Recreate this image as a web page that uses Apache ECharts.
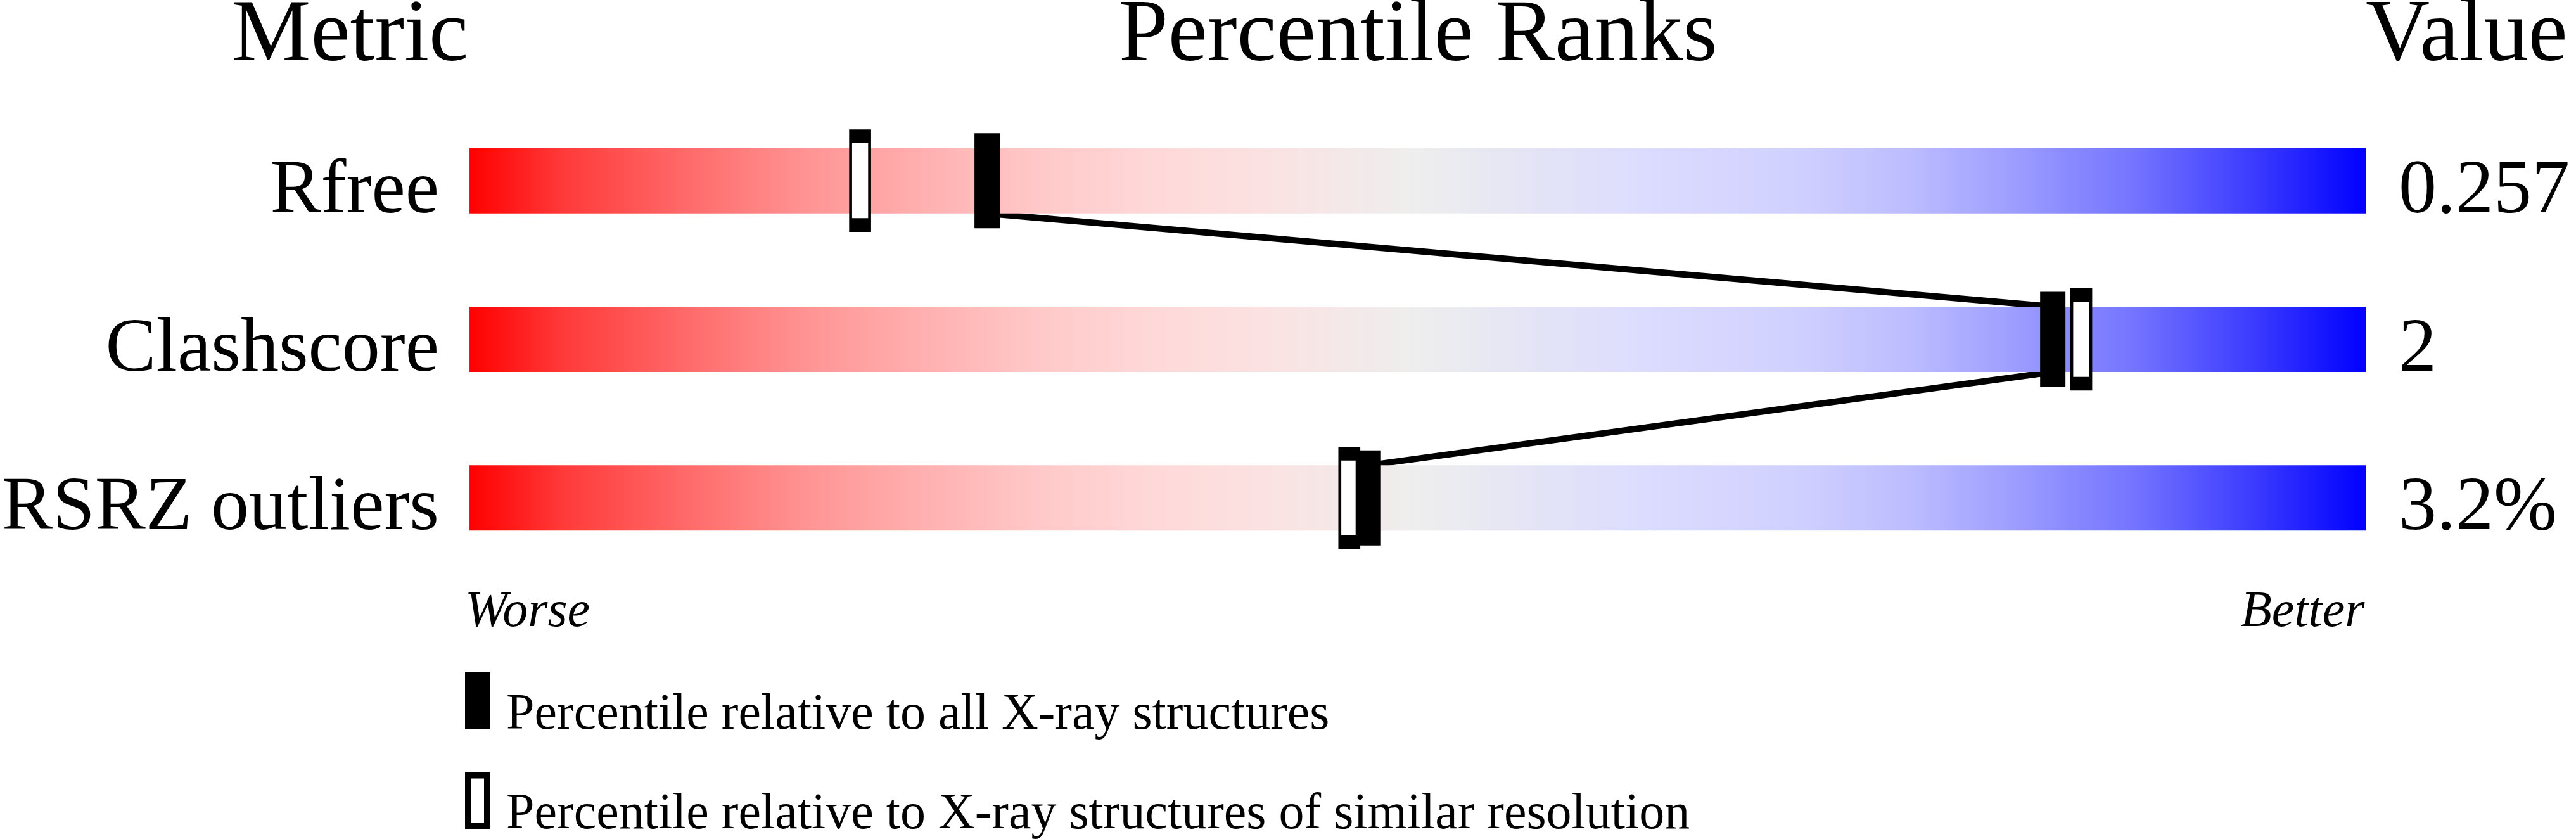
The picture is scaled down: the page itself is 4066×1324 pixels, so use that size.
<!DOCTYPE html>
<html>
<head>
<meta charset="utf-8">
<script src="https://cdn.jsdelivr.net/npm/echarts@6/dist/echarts.min.js"></script>
<style>
  html, body { margin: 0; padding: 0; background: #fff; }
  #chart { width: 4066px; height: 1324px; }
</style>
</head>
<body>
<div id="chart"></div>
<script>
// metrics and their values
const metrics = ['Rfree', 'Clashscore', 'RSRZ outliers'];
const metricValues = ['0.257', '2', '3.2%'];
// percentile ranks (0-100)
const pctAll = [27.3, 83.5, 47.4];        // all X-ray structures (filled)
const pctSimilar = [20.6, 85.0, 46.4];    // similar resolution (hollow)

const nameAll = 'Percentile relative to all X-ray structures';
const nameSimilar = 'Percentile relative to X-ray structures of similar resolution';

const FONT = "'Liberation Serif', 'Times New Roman', serif";
const BAR_H = 103;

const chart = echarts.init(document.getElementById('chart'));

// red -> grey -> blue
const barGradient = new echarts.graphic.LinearGradient(0, 0, 1, 0, [
    { offset: 0, color: '#ff0000' },
    { offset: 0.05, color: '#ff3a3a' },
    { offset: 0.116, color: '#ff6b6b' },
    { offset: 0.18, color: '#ff9595' },
    { offset: 0.24, color: '#ffb0b0' },
    { offset: 0.30, color: '#ffc8c8' },
    { offset: 0.36, color: '#ffd8d8' },
    { offset: 0.42, color: '#fbe2e2' },
    { offset: 0.50, color: '#eeeeee' },
    { offset: 0.56, color: '#e4e4f6' },
    { offset: 0.62, color: '#dcdcff' },
    { offset: 0.70, color: '#d0d0ff' },
    { offset: 0.76, color: '#bcbcff' },
    { offset: 0.82, color: '#9a9aff' },
    { offset: 0.88, color: '#7272ff' },
    { offset: 0.94, color: '#3c3cff' },
    { offset: 1, color: '#0000ff' }
]);

const links = [];
for (let i = 0; i < pctAll.length - 1; i++) {
    links.push([pctAll[i], i, pctAll[i + 1], i + 1]);
}

const titleStyle = (size, italic) => ({
    fontFamily: FONT,
    fontSize: size,
    fontWeight: 'normal',
    fontStyle: italic ? 'italic' : 'normal',
    color: '#000',
    lineHeight: size
});

// labels sit on the bar's bottom edge, so push them down a little
const rowLabel = {
    fontFamily: FONT, fontSize: 120, color: '#000',
    formatter: '{a|{value}}',
    rich: { a: { fontFamily: FONT, fontSize: 120, color: '#000', padding: [36, 0, 0, 0] } }
};

const option = {
    animation: false,
    backgroundColor: '#fff',
    title: [
        { text: 'Metric', left: 366, top: -12, padding: 0, textStyle: titleStyle(140) },
        { text: 'Percentile Ranks', left: 1766, top: -12, padding: 0, textStyle: titleStyle(140) },
        { text: 'Value', left: 3734, top: -12, padding: 0, textStyle: titleStyle(140) },
        { text: 'Worse', left: 734, top: 927, padding: 0, textStyle: titleStyle(80, true) },
        { text: 'Better', left: 3537, top: 927, padding: 0, textStyle: titleStyle(80, true) }
    ],
    legend: {
        orient: 'vertical',
        left: 734,
        top: 1061,
        height: 600,
        itemWidth: 30,
        itemHeight: 80,
        itemGap: 50,
        padding: 0,
        selectedMode: false,
        formatter: '{a|{name}}',
        textStyle: {
            fontFamily: FONT, fontSize: 80, color: '#000',
            rich: { a: { fontFamily: FONT, fontSize: 80, color: '#000', padding: [45, 0, 0, 25] } }
        },
        data: [
            { name: nameAll, icon: 'rect', itemStyle: { color: '#000', borderColor: '#000', borderWidth: 10 } },
            { name: nameSimilar, icon: 'rect', itemStyle: { color: '#fff', borderColor: '#000', borderWidth: 10 } }
        ]
    },
    grid: { left: 734, right: 332, top: 160, height: 751, containLabel: false },
    xAxis: { type: 'value', min: 0, max: 100, show: false },
    yAxis: [
        {
            type: 'category', data: metrics, inverse: true,
            axisLine: { show: false }, axisTick: { show: false }, splitLine: { show: false },
            axisLabel: Object.assign({ margin: 48 }, rowLabel)
        },
        {
            type: 'category', data: metricValues, inverse: true, position: 'right',
            axisLine: { show: false }, axisTick: { show: false }, splitLine: { show: false },
            axisLabel: Object.assign({ margin: 52 }, rowLabel)
        }
    ],
    series: [
        {
            type: 'bar', data: metrics.map(() => 100), barWidth: BAR_H,
            itemStyle: { color: barGradient }, silent: true
        },
        {
            type: 'custom', data: links, encode: { x: [0, 2], y: [1, 3] }, silent: true,
            renderItem: function (params, api) {
                const a = api.coord([api.value(0), api.value(1)]);
                const b = api.coord([api.value(2), api.value(3)]);
                return {
                    type: 'line',
                    shape: { x1: a[0], y1: a[1] + BAR_H / 2, x2: b[0], y2: b[1] - BAR_H / 2 },
                    style: { stroke: '#000', lineWidth: 10 }
                };
            }
        },
        {
            name: nameSimilar, type: 'scatter', symbol: 'rect', symbolSize: [30, 140],
            data: pctSimilar.map((p, i) => [p, i]),
            itemStyle: { color: '#fff', borderColor: '#000', borderWidth: 10, opacity: 1 }
        },
        {
            name: nameAll, type: 'scatter', symbol: 'rect', symbolSize: [40, 150],
            data: pctAll.map((p, i) => [p, i]),
            itemStyle: { color: '#000', opacity: 1 }
        }
    ]
};

chart.setOption(option);
</script>
</body>
</html>
